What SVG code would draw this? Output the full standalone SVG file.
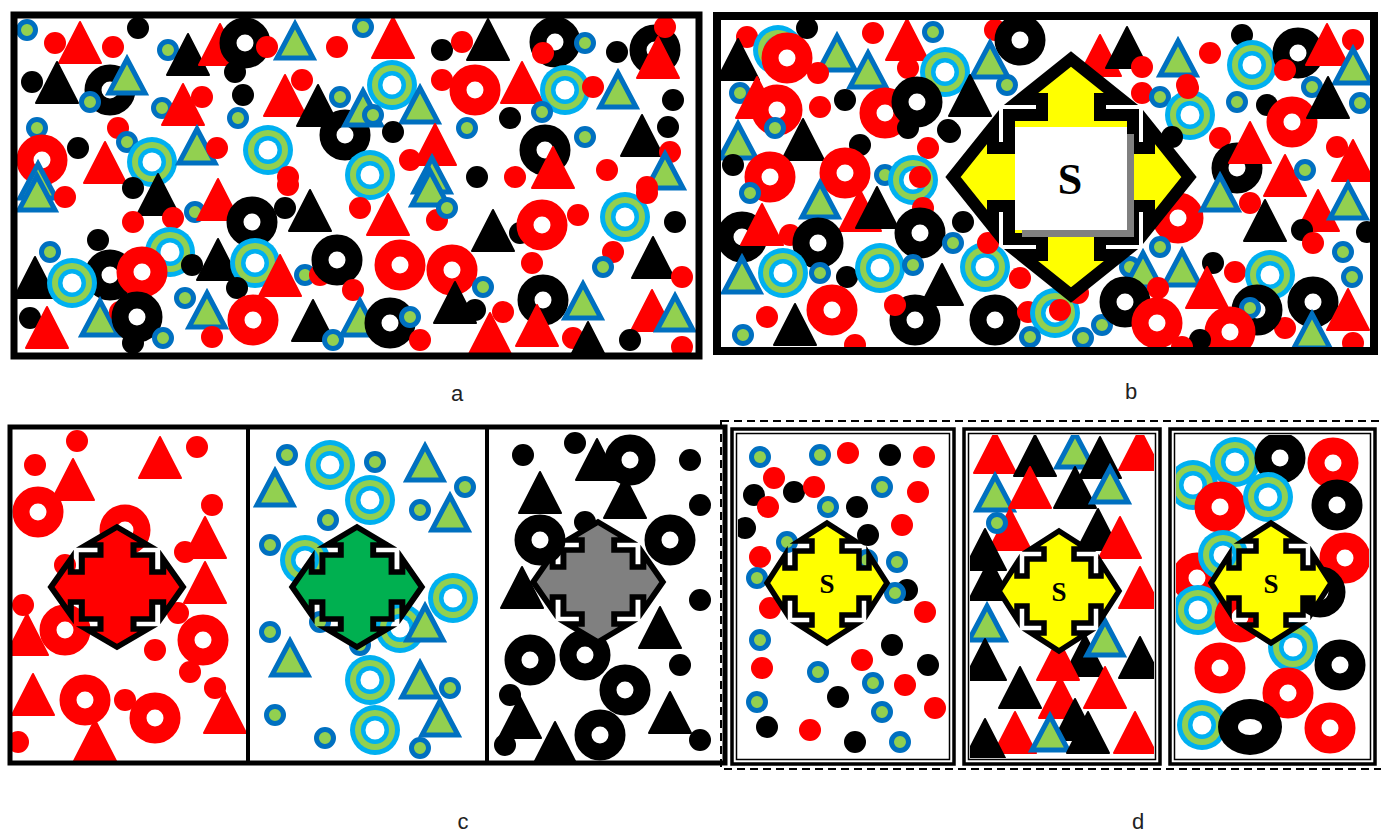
<svg xmlns="http://www.w3.org/2000/svg" width="1381" height="834" viewBox="0 0 1381 834">
<style>
.lbl{font-family:"Liberation Sans",Arial,sans-serif;font-size:22px;fill:#222;text-anchor:middle}
.sb{font-family:"Liberation Serif","Times New Roman",serif;font-weight:bold;fill:#000;text-anchor:middle}
.frame{fill:none;stroke:#000}
.arrow{stroke:#000;stroke-linejoin:miter;stroke-miterlimit:10}
</style>
<defs>
<g id="r"><circle r="11" fill="#FF0000"/></g>
<g id="k"><circle r="11" fill="#000"/></g>
<g id="s"><circle r="8.5" fill="#92D050" stroke="#0070C0" stroke-width="5"/></g>
<g id="c"><circle r="25" fill="#00B0F0"/><circle r="20" fill="#92D050"/><circle r="14" fill="#00B0F0"/><circle r="9.5" fill="#fff"/></g>
<g id="R"><circle r="17" fill="#fff" stroke="#FF0000" stroke-width="17"/></g>
<g id="K"><circle r="17" fill="#fff" stroke="#000" stroke-width="17"/></g>
<g id="t"><polygon points="0,-23 21,18 -21,18" fill="#FF0000" stroke="#FF0000" stroke-width="2" stroke-linejoin="round"/></g>
<g id="T"><polygon points="0,-23 21,18 -21,18" fill="#000" stroke="#000" stroke-width="2" stroke-linejoin="round"/></g>
<g id="g"><polygon points="0,-19 18,15 -18,15" fill="#92D050" stroke="#0070C0" stroke-width="5"/></g>
<path id="qa" d="M0,-60 L28,-42 L15,-42 L15,-32 L32,-32 L32,-15 L42,-15 L42,-28 L60,0 L42,28 L42,15 L32,15 L32,32 L15,32 L15,42 L28,42 L0,60 L-28,42 L-15,42 L-15,32 L-32,32 L-32,15 L-42,15 L-42,28 L-60,0 L-42,-28 L-42,-15 L-32,-15 L-32,-32 L-15,-32 L-15,-42 L-28,-42 Z"/>
<path id="qb" d="M0,-118 L50,-78 L29,-78 L29,-62 L62,-62 L62,-29 L78,-29 L78,-50 L118,0 L78,50 L78,29 L62,29 L62,62 L29,62 L29,78 L50,78 L0,118 L-50,78 L-29,78 L-29,62 L-62,62 L-62,29 L-78,29 L-78,50 L-118,0 L-78,-50 L-78,-29 L-62,-29 L-62,-62 L-29,-62 L-29,-78 L-50,-78 Z"/>
<clipPath id="ca"><rect x="17" y="18" width="679" height="335"/></clipPath>
<clipPath id="cb"><rect x="721" y="20" width="649" height="327"/></clipPath>
<clipPath id="cc1"><rect x="12" y="429" width="234" height="332"/></clipPath>
<clipPath id="cc2"><rect x="250" y="429" width="235" height="332"/></clipPath>
<clipPath id="cc3"><rect x="489" y="429" width="234" height="332"/></clipPath>
<clipPath id="cd1"><rect x="738" y="435" width="210" height="323"/></clipPath>
<clipPath id="cd2"><rect x="970" y="435" width="184" height="323"/></clipPath>
<clipPath id="cd3"><rect x="1176" y="435" width="193" height="323"/></clipPath>
</defs>
<rect width="1381" height="834" fill="#fff"/>

<g id="panel-a">
<g clip-path="url(#ca)">
<use href="#s" x="27" y="30"/><use href="#r" x="55" y="43"/><use href="#t" x="80" y="45"/><use href="#r" x="113" y="47"/><use href="#k" x="138" y="28"/><use href="#s" x="168" y="50"/><use href="#T" x="188" y="57"/><use href="#t" x="220" y="47"/><use href="#K" x="245" y="43"/><use href="#r" x="267" y="47"/><use href="#g" x="295" y="43"/><use href="#r" x="337" y="47"/>
<use href="#k" x="32" y="82"/><use href="#T" x="57" y="85"/><use href="#K" x="110" y="90"/><use href="#g" x="127" y="78"/><use href="#s" x="90" y="102"/><use href="#s" x="162" y="108"/><use href="#t" x="183" y="107"/><use href="#r" x="202" y="97"/><use href="#k" x="235" y="72"/><use href="#k" x="243" y="95"/><use href="#s" x="238" y="118"/><use href="#t" x="285" y="98"/><use href="#r" x="302" y="80"/><use href="#K" x="345" y="135"/><use href="#T" x="318" y="108"/><use href="#s" x="340" y="97"/>
<use href="#s" x="37" y="128"/><use href="#r" x="118" y="128"/><use href="#R" x="42" y="160"/><use href="#k" x="78" y="148"/><use href="#t" x="105" y="165"/><use href="#s" x="127" y="142"/><use href="#c" x="152" y="162"/><use href="#g" x="197" y="148"/><use href="#r" x="217" y="148"/><use href="#c" x="268" y="150"/><use href="#r" x="288" y="177"/><use href="#g" x="38" y="183"/>
<use href="#s" x="363" y="27"/><use href="#t" x="393" y="40"/><use href="#k" x="442" y="50"/><use href="#r" x="462" y="42"/><use href="#T" x="488" y="42"/><use href="#K" x="555" y="42"/><use href="#r" x="543" y="53"/><use href="#s" x="585" y="43"/><use href="#k" x="617" y="52"/><use href="#K" x="655" y="50"/><use href="#r" x="665" y="27"/><use href="#t" x="658" y="60"/>
<use href="#c" x="392" y="85"/><use href="#g" x="363" y="110"/><use href="#s" x="373" y="115"/><use href="#g" x="420" y="107"/><use href="#r" x="442" y="80"/><use href="#R" x="475" y="90"/><use href="#t" x="522" y="85"/><use href="#c" x="565" y="90"/><use href="#r" x="593" y="87"/><use href="#g" x="618" y="92"/><use href="#k" x="673" y="100"/><use href="#s" x="542" y="112"/><use href="#k" x="510" y="118"/><use href="#s" x="467" y="128"/><use href="#k" x="393" y="132"/><use href="#t" x="435" y="147"/><use href="#r" x="410" y="160"/><use href="#K" x="545" y="150"/><use href="#s" x="585" y="137"/><use href="#T" x="642" y="138"/><use href="#k" x="668" y="127"/><use href="#r" x="670" y="152"/><use href="#c" x="370" y="175"/><use href="#g" x="432" y="177"/><use href="#k" x="477" y="177"/><use href="#r" x="515" y="177"/><use href="#t" x="553" y="170"/><use href="#r" x="607" y="170"/><use href="#g" x="665" y="173"/><use href="#r" x="647" y="187"/>
<use href="#g" x="37" y="195"/><use href="#r" x="65" y="197"/><use href="#k" x="133" y="188"/><use href="#T" x="158" y="197"/><use href="#r" x="133" y="222"/><use href="#r" x="173" y="218"/><use href="#s" x="195" y="212"/><use href="#t" x="218" y="202"/><use href="#K" x="252" y="222"/><use href="#k" x="285" y="208"/><use href="#T" x="310" y="213"/><use href="#r" x="288" y="185"/>
<use href="#k" x="98" y="240"/><use href="#s" x="50" y="252"/><use href="#c" x="170" y="252"/><use href="#K" x="110" y="275"/><use href="#R" x="142" y="272"/><use href="#k" x="192" y="265"/><use href="#T" x="218" y="262"/><use href="#c" x="255" y="263"/><use href="#t" x="280" y="278"/><use href="#k" x="237" y="288"/><use href="#s" x="305" y="275"/><use href="#r" x="320" y="275"/><use href="#K" x="337" y="260"/>
<use href="#T" x="35" y="280"/><use href="#c" x="72" y="283"/><use href="#k" x="30" y="318"/><use href="#t" x="47" y="330"/><use href="#g" x="100" y="320"/><use href="#r" x="120" y="312"/><use href="#K" x="137" y="317"/><use href="#s" x="185" y="298"/><use href="#g" x="207" y="312"/><use href="#R" x="253" y="320"/><use href="#r" x="212" y="337"/><use href="#s" x="163" y="338"/><use href="#k" x="133" y="343"/><use href="#T" x="313" y="323"/><use href="#s" x="333" y="340"/>
<use href="#g" x="430" y="190"/><use href="#r" x="360" y="208"/><use href="#t" x="388" y="217"/><use href="#r" x="437" y="220"/><use href="#s" x="447" y="208"/><use href="#T" x="493" y="233"/><use href="#k" x="520" y="233"/><use href="#R" x="542" y="225"/><use href="#r" x="578" y="215"/><use href="#c" x="625" y="217"/><use href="#r" x="647" y="193"/><use href="#k" x="675" y="222"/><use href="#r" x="613" y="252"/><use href="#s" x="603" y="267"/><use href="#T" x="653" y="260"/><use href="#r" x="682" y="277"/>
<use href="#R" x="400" y="265"/><use href="#R" x="452" y="270"/><use href="#r" x="532" y="263"/><use href="#r" x="353" y="290"/><use href="#s" x="483" y="287"/><use href="#K" x="543" y="300"/><use href="#g" x="583" y="303"/><use href="#T" x="455" y="305"/><use href="#k" x="475" y="310"/><use href="#r" x="503" y="312"/><use href="#g" x="360" y="320"/><use href="#K" x="390" y="323"/><use href="#s" x="410" y="317"/><use href="#r" x="420" y="340"/><use href="#t" x="490" y="336"/><use href="#t" x="537" y="328"/><use href="#r" x="573" y="338"/><use href="#T" x="588" y="345"/><use href="#t" x="652" y="313"/><use href="#g" x="675" y="315"/><use href="#k" x="630" y="340"/><use href="#r" x="682" y="347"/>
</g>
<rect class="frame" x="14" y="15" width="685" height="341" stroke-width="7"/>
</g>

<g id="panel-b">
<g clip-path="url(#cb)">
<use href="#r" x="747" y="37"/><use href="#c" x="778" y="50"/><use href="#R" x="787" y="58"/><use href="#k" x="807" y="28"/><use href="#T" x="738" y="62"/><use href="#g" x="837" y="55"/><use href="#r" x="818" y="73"/><use href="#r" x="873" y="33"/><use href="#g" x="868" y="72"/><use href="#t" x="907" y="42"/><use href="#r" x="908" y="68"/><use href="#s" x="933" y="32"/><use href="#c" x="945" y="72"/>
<use href="#s" x="740" y="93"/><use href="#t" x="757" y="100"/><use href="#R" x="777" y="110"/><use href="#s" x="775" y="128"/><use href="#r" x="820" y="107"/><use href="#k" x="845" y="100"/><use href="#R" x="885" y="113"/><use href="#K" x="917" y="102"/><use href="#k" x="908" y="128"/><use href="#k" x="950" y="132"/>
<use href="#g" x="738" y="143"/><use href="#k" x="733" y="165"/><use href="#T" x="803" y="142"/><use href="#k" x="860" y="145"/><use href="#r" x="928" y="148"/><use href="#R" x="770" y="177"/><use href="#R" x="845" y="173"/><use href="#s" x="885" y="175"/><use href="#c" x="913" y="180"/><use href="#r" x="920" y="177"/><use href="#s" x="750" y="193"/><use href="#g" x="820" y="202"/><use href="#t" x="860" y="213"/><use href="#T" x="877" y="210"/><use href="#r" x="923" y="208"/>
<use href="#K" x="742" y="237"/><use href="#t" x="762" y="227"/><use href="#r" x="790" y="235"/><use href="#K" x="818" y="243"/><use href="#K" x="920" y="233"/><use href="#s" x="953" y="243"/>
<use href="#g" x="742" y="277"/><use href="#c" x="783" y="273"/><use href="#s" x="820" y="273"/><use href="#k" x="847" y="277"/><use href="#c" x="880" y="268"/><use href="#s" x="913" y="265"/><use href="#T" x="942" y="287"/><use href="#R" x="832" y="310"/><use href="#r" x="767" y="317"/><use href="#T" x="795" y="327"/><use href="#s" x="743" y="335"/><use href="#r" x="855" y="345"/><use href="#K" x="915" y="320"/><use href="#r" x="895" y="305"/>
<use href="#r" x="995" y="30"/><use href="#K" x="1020" y="40"/><use href="#g" x="990" y="62"/><use href="#s" x="1007" y="85"/><use href="#T" x="970" y="98"/><use href="#k" x="948" y="130"/><use href="#t" x="1100" y="58"/><use href="#T" x="1127" y="50"/><use href="#r" x="1142" y="67"/><use href="#g" x="1178" y="60"/><use href="#r" x="1142" y="93"/><use href="#s" x="1160" y="97"/><use href="#c" x="1190" y="115"/><use href="#r" x="1187" y="85"/><use href="#k" x="1172" y="137"/><use href="#R" x="1178" y="218"/><use href="#k" x="963" y="222"/><use href="#c" x="985" y="267"/><use href="#r" x="988" y="243"/><use href="#s" x="1160" y="247"/><use href="#g" x="1182" y="270"/><use href="#s" x="1130" y="267"/><use href="#g" x="1143" y="272"/><use href="#r" x="1158" y="288"/><use href="#r" x="1020" y="278"/>
<use href="#k" x="1242" y="35"/><use href="#c" x="1252" y="65"/><use href="#K" x="1298" y="53"/><use href="#t" x="1327" y="47"/><use href="#r" x="1353" y="40"/><use href="#g" x="1353" y="68"/><use href="#r" x="1285" y="70"/><use href="#s" x="1312" y="87"/><use href="#r" x="1210" y="53"/><use href="#s" x="1237" y="102"/><use href="#k" x="1267" y="105"/><use href="#R" x="1292" y="122"/><use href="#T" x="1328" y="100"/><use href="#s" x="1360" y="103"/><use href="#r" x="1188" y="88"/>
<use href="#r" x="1220" y="138"/><use href="#K" x="1237" y="168"/><use href="#t" x="1250" y="145"/><use href="#t" x="1285" y="178"/><use href="#s" x="1305" y="170"/><use href="#r" x="1337" y="147"/><use href="#t" x="1353" y="163"/><use href="#g" x="1220" y="195"/><use href="#r" x="1250" y="203"/><use href="#T" x="1265" y="223"/><use href="#t" x="1318" y="213"/><use href="#k" x="1302" y="230"/><use href="#r" x="1313" y="243"/><use href="#g" x="1348" y="203"/><use href="#k" x="1367" y="232"/>
<use href="#k" x="1213" y="263"/><use href="#r" x="1235" y="272"/><use href="#c" x="1270" y="275"/><use href="#s" x="1343" y="252"/><use href="#s" x="1352" y="277"/><use href="#t" x="1207" y="290"/><use href="#K" x="1313" y="302"/><use href="#t" x="1348" y="312"/><use href="#g" x="1312" y="333"/><use href="#r" x="1285" y="328"/><use href="#K" x="1257" y="310"/><use href="#s" x="1250" y="308"/><use href="#R" x="1230" y="332"/><use href="#k" x="1200" y="340"/><use href="#r" x="1353" y="343"/>
<use href="#K" x="995" y="320"/><use href="#r" x="1028" y="312"/><use href="#c" x="1055" y="313"/><use href="#r" x="1060" y="310"/><use href="#s" x="1030" y="337"/><use href="#s" x="1083" y="338"/><use href="#s" x="1102" y="325"/><use href="#K" x="1125" y="302"/><use href="#r" x="1078" y="293"/><use href="#R" x="1157" y="323"/><use href="#r" x="1182" y="347"/>
</g>
<use href="#qb" x="1071" y="177" class="arrow" fill="#FFFF00" stroke-width="12"/>
<rect x="1022" y="134" width="112" height="103" fill="#808080"/>
<rect x="1015" y="127" width="112" height="103" fill="#fff"/>
<text class="sb" x="1070" y="194" font-size="44">S</text>
<rect class="frame" x="717" y="16" width="657" height="335" stroke-width="8"/>
</g>

<g id="panel-c">
<g clip-path="url(#cc1)">
<use href="#r" x="77" y="441"/><use href="#r" x="35" y="465"/><use href="#t" x="73" y="482"/><use href="#t" x="160" y="460"/><use href="#r" x="197" y="447"/><use href="#R" x="38" y="512"/><use href="#r" x="212" y="505"/><use href="#R" x="125" y="530"/><use href="#t" x="205" y="540"/><use href="#r" x="185" y="552"/><use href="#r" x="65" y="565"/><use href="#r" x="23" y="605"/><use href="#t" x="205" y="585"/><use href="#r" x="178" y="613"/><use href="#t" x="27" y="637"/><use href="#R" x="65" y="630"/><use href="#R" x="203" y="640"/><use href="#r" x="155" y="650"/><use href="#r" x="190" y="672"/><use href="#r" x="215" y="688"/><use href="#t" x="33" y="697"/><use href="#R" x="85" y="700"/><use href="#r" x="125" y="700"/><use href="#R" x="155" y="718"/><use href="#t" x="225" y="715"/><use href="#r" x="18" y="742"/><use href="#t" x="95" y="743"/>
</g>
<g clip-path="url(#cc2)">
<use href="#s" x="287" y="455"/><use href="#c" x="330" y="465"/><use href="#s" x="375" y="462"/><use href="#g" x="425" y="465"/><use href="#s" x="465" y="487"/><use href="#g" x="275" y="490"/><use href="#c" x="370" y="500"/><use href="#s" x="420" y="510"/><use href="#g" x="450" y="515"/><use href="#s" x="328" y="520"/><use href="#s" x="270" y="545"/><use href="#c" x="305" y="560"/><use href="#c" x="453" y="598"/><use href="#c" x="400" y="628"/><use href="#g" x="425" y="625"/><use href="#s" x="320" y="622"/><use href="#s" x="270" y="632"/><use href="#g" x="290" y="660"/><use href="#s" x="360" y="645"/><use href="#c" x="370" y="680"/><use href="#g" x="420" y="682"/><use href="#s" x="450" y="688"/><use href="#s" x="275" y="715"/><use href="#c" x="375" y="730"/><use href="#s" x="325" y="738"/><use href="#g" x="440" y="720"/><use href="#s" x="420" y="748"/>
</g>
<g clip-path="url(#cc3)">
<use href="#k" x="523" y="455"/><use href="#k" x="575" y="443"/><use href="#T" x="597" y="462"/><use href="#K" x="630" y="460"/><use href="#k" x="690" y="460"/><use href="#T" x="540" y="495"/><use href="#T" x="625" y="500"/><use href="#K" x="540" y="540"/><use href="#k" x="585" y="522"/><use href="#K" x="670" y="540"/><use href="#k" x="700" y="505"/><use href="#T" x="522" y="590"/><use href="#T" x="660" y="630"/><use href="#k" x="700" y="600"/><use href="#K" x="530" y="660"/><use href="#K" x="585" y="655"/><use href="#k" x="510" y="695"/><use href="#K" x="625" y="690"/><use href="#k" x="680" y="665"/><use href="#T" x="520" y="720"/><use href="#T" x="555" y="745"/><use href="#T" x="670" y="715"/><use href="#K" x="600" y="735"/><use href="#k" x="700" y="740"/><use href="#k" x="505" y="745"/>
</g>
<use href="#qa" transform="translate(117,587) scale(1.1,1)" class="arrow" fill="#FF0000" stroke-width="5.5"/>
<use href="#qa" transform="translate(357,587) scale(1.08,1)" class="arrow" fill="#00B050" stroke-width="5.5"/>
<use href="#qa" transform="translate(598,582) scale(1.08,1)" class="arrow" fill="#808080" stroke-width="5.5"/>
<rect class="frame" x="10" y="427" width="715" height="336" stroke-width="5"/>
<line x1="248" y1="427" x2="248" y2="763" stroke="#000" stroke-width="4"/>
<line x1="487" y1="427" x2="487" y2="763" stroke="#000" stroke-width="4"/>
</g>

<g id="panel-d">
<g clip-path="url(#cd1)">
<use href="#s" x="760" y="457"/><use href="#s" x="820" y="455"/><use href="#r" x="848" y="453"/><use href="#k" x="890" y="455"/><use href="#r" x="924" y="457"/><use href="#r" x="774" y="478"/><use href="#k" x="754" y="495"/><use href="#k" x="794" y="492"/><use href="#r" x="814" y="487"/><use href="#s" x="882" y="487"/><use href="#r" x="918" y="492"/><use href="#r" x="768" y="507"/><use href="#s" x="828" y="507"/><use href="#k" x="857" y="507"/><use href="#r" x="902" y="525"/><use href="#k" x="745" y="528"/><use href="#s" x="787" y="542"/><use href="#k" x="868" y="535"/><use href="#r" x="760" y="557"/><use href="#s" x="867" y="560"/><use href="#s" x="897" y="562"/><use href="#s" x="757" y="578"/><use href="#k" x="907" y="590"/><use href="#s" x="895" y="593"/><use href="#r" x="770" y="608"/><use href="#r" x="925" y="612"/><use href="#s" x="760" y="640"/><use href="#k" x="892" y="645"/><use href="#r" x="762" y="668"/><use href="#r" x="862" y="660"/><use href="#s" x="818" y="672"/><use href="#k" x="928" y="665"/><use href="#s" x="873" y="683"/><use href="#r" x="905" y="685"/><use href="#k" x="838" y="697"/><use href="#s" x="757" y="702"/><use href="#k" x="767" y="727"/><use href="#r" x="810" y="730"/><use href="#s" x="882" y="712"/><use href="#r" x="935" y="708"/><use href="#k" x="855" y="742"/><use href="#s" x="900" y="742"/>
</g>
<g clip-path="url(#cd2)">
<use href="#t" x="995" y="455"/><use href="#T" x="1035" y="458"/><use href="#g" x="1075" y="452"/><use href="#T" x="1100" y="460"/><use href="#t" x="1140" y="452"/><use href="#g" x="995" y="495"/><use href="#t" x="1030" y="490"/><use href="#T" x="1075" y="490"/><use href="#g" x="1110" y="487"/><use href="#t" x="1010" y="532"/><use href="#s" x="997" y="523"/><use href="#T" x="985" y="552"/><use href="#T" x="1098" y="532"/><use href="#t" x="1120" y="540"/><use href="#T" x="990" y="582"/><use href="#t" x="1140" y="590"/><use href="#g" x="987" y="625"/><use href="#T" x="985" y="662"/><use href="#T" x="1085" y="658"/><use href="#g" x="1105" y="640"/><use href="#t" x="1058" y="662"/><use href="#T" x="1140" y="660"/><use href="#t" x="1105" y="690"/><use href="#T" x="1020" y="690"/><use href="#t" x="1060" y="700"/><use href="#T" x="1075" y="722"/><use href="#t" x="1015" y="735"/><use href="#T" x="985" y="742"/><use href="#g" x="1050" y="735"/><use href="#T" x="1088" y="735"/><use href="#t" x="1135" y="735"/>
</g>
<g clip-path="url(#cd3)">
<use href="#c" x="1193" y="485"/><use href="#c" x="1235" y="462"/><use href="#K" x="1280" y="458"/><use href="#R" x="1333" y="463"/><use href="#R" x="1220" y="507"/><use href="#c" x="1268" y="497"/><use href="#K" x="1337" y="505"/><use href="#R" x="1197" y="578"/><use href="#c" x="1223" y="555"/><use href="#R" x="1345" y="558"/><use href="#c" x="1198" y="610"/><use href="#R" x="1240" y="617"/><use href="#K" x="1320" y="592"/><use href="#c" x="1293" y="647"/><use href="#R" x="1220" y="668"/><use href="#K" x="1340" y="665"/><use href="#R" x="1288" y="693"/><use href="#c" x="1202" y="725"/>
<ellipse cx="1250" cy="727" rx="32" ry="28" fill="#000"/><ellipse cx="1250" cy="727" rx="12" ry="8" fill="#fff"/>
<use href="#R" x="1330" y="728"/>
</g>
<use href="#qa" x="827" y="583" class="arrow" fill="#FFFF00" stroke-width="5.5"/>
<text class="sb" x="827" y="593" font-size="27">S</text>
<use href="#qa" x="1059" y="591" class="arrow" fill="#FFFF00" stroke-width="5.5"/>
<text class="sb" x="1059" y="601" font-size="27">S</text>
<use href="#qa" x="1271" y="583" class="arrow" fill="#FFFF00" stroke-width="5.5"/>
<text class="sb" x="1271" y="593" font-size="27">S</text>
<rect x="721" y="421" width="670" height="348" fill="none" stroke="#000" stroke-width="2" stroke-dasharray="8,5"/>
<rect class="frame" x="732" y="429" width="222" height="335" stroke-width="3.5"/>
<rect class="frame" x="736.5" y="433.5" width="213" height="326" stroke-width="1.5"/>
<rect class="frame" x="964" y="429" width="196" height="335" stroke-width="3.5"/>
<rect class="frame" x="968.5" y="433.5" width="187" height="326" stroke-width="1.5"/>
<rect class="frame" x="1170" y="429" width="205" height="335" stroke-width="3.5"/>
<rect class="frame" x="1174.5" y="433.5" width="196" height="326" stroke-width="1.5"/>
</g>

<g id="labels">
<text class="lbl" x="457" y="401">a</text>
<text class="lbl" x="1131" y="399">b</text>
<text class="lbl" x="463" y="829">c</text>
<text class="lbl" x="1138" y="829">d</text>
</g>
</svg>
